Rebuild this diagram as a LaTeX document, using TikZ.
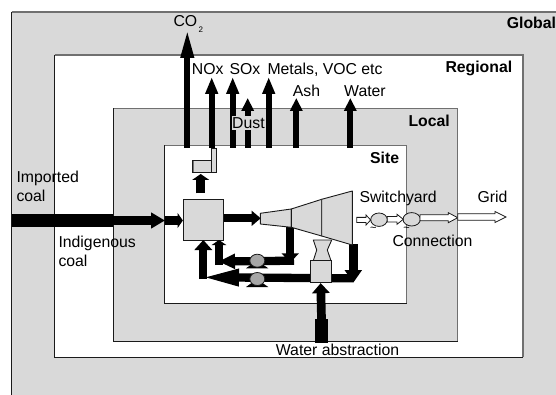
\documentclass[tikz,border=0pt]{standalone}
\usepackage{fontspec}
\setmainfont{Liberation Sans}
\usetikzlibrary{arrows.meta,shapes.geometric}
\definecolor{zone}{HTML}{D9D9D9}
\definecolor{edgedark}{HTML}{1A1A1A}
\definecolor{edgelight}{HTML}{707070}
\definecolor{pumpgray}{HTML}{A6A6A6}
\tikzset{
  flow/.style n args={3}{line width=#1pt,draw=black,-{Triangle[width=#2pt,length=#3pt]}},
  lab/.style={anchor=base west,inner sep=0pt,font=\fontsize{15.8}{18}\selectfont,text=black},
  blab/.style={lab,font=\fontsize{15.8}{18}\selectfont\bfseries},
  unit/.style={draw=edgedark,line width=0.9pt,fill=zone},
  pumpbody/.style={draw=edgedark,line width=0.8pt,fill=pumpgray},
  gen/.style={draw=edgedark,line width=0.8pt,fill=zone},
  tildelab/.style={inner sep=0pt,font=\fontsize{11}{11}\selectfont}
}
\newcommand{\zonerect}[5]{%
  \fill[#5] (#1,#2) rectangle (#3,#4);
  \draw[edgedark,line width=0.9pt] (#1,#2) -- (#1,#4) -- (#3,#4);
  \draw[edgelight,line width=1.1pt] (#1,#2) -- (#3,#2) -- (#3,#4);
}
\begin{document}
\begin{tikzpicture}[x=1pt,y=-1pt]
\useasboundingbox (0,0) rectangle (556,395);
\fill[white] (0,0) rectangle (556,395);
% zones
\fill[zone] (11.5,12) rectangle (556,395);
\draw[edgelight,line width=1.1pt] (11.5,12) -- (556,12);
\draw[edgedark,line width=0.9pt] (11.5,12) -- (11.5,395);
\zonerect{54.5}{55}{523}{357}{white}
\zonerect{113.5}{108.5}{457.5}{341}{zone}
\zonerect{164.5}{145.5}{406.5}{303}{white}

% emission anchors
\coordinate (co2a) at (187.3,148);  \coordinate (co2b) at (187.3,28);
\coordinate (noxa) at (211.7,148);  \coordinate (noxb) at (211.7,77);
\coordinate (soxa) at (232.7,148);  \coordinate (soxb) at (232.7,77);
\coordinate (dusa) at (247.7,148);  \coordinate (dusb) at (247.7,98);
\coordinate (meta) at (268.7,148);  \coordinate (metb) at (268.7,77);
\coordinate (asha) at (296.3,148);  \coordinate (ashb) at (296.3,98);
\coordinate (wata) at (350.3,148);  \coordinate (watb) at (350.3,98);
\draw[flow={6.3}{12}{30}] (co2a) -- (co2b);
\draw[flow={6}{12}{17}] (noxa) -- (noxb);
\draw[flow={6}{12}{17}] (soxa) -- (soxb);
\draw[flow={6}{12}{13}] (dusa) -- (dusb);
\draw[flow={6}{12}{17}] (meta) -- (metb);
\draw[flow={6}{12}{13}] (asha) -- (ashb);
\draw[flow={6.3}{12}{13}] (wata) -- (watb);

% coal
\node[unit,minimum width=40pt,minimum height=40.7pt,inner sep=0pt] (boiler) at (203.3,219.7) {};
\coordinate (coalA) at (11.5,220.5);
\coordinate (coalB) at (113,220.5);
\coordinate (coalC) at (165,220.5);
\draw[line width=12.4pt,draw=black] (coalA) -- (coalB);
\draw[flow={9}{15.3}{14}] (coalB) -- (coalC);
\draw[flow={8.4}{15}{5.3}] (coalC) -- (boiler.west |- coalC);

% stack
\coordinate (stackin) at (200.7,174);
\coordinate (stackout) at (200.7,193.3);
\draw[flow={8.7}{17}{6}] (stackout) -- (stackin);
\fill[zone] (192.7,160) rectangle (216,172.3);
\fill[black!55] (192.7,160) rectangle (194.3,172.3);
\fill[zone] (211.7,148.3) rectangle (216,172.3);
\draw[edgedark,line width=0.8pt] (192.7,160) -- (211.7,160) -- (211.7,148.3) -- (216,148.3) -- (216,172.3) -- (192.7,172.3) -- cycle;
\draw[edgedark,line width=0.6pt] (211.7,160) -- (211.7,172.3);

% boiler to turbine
\coordinate (hpin) at (260.7,218.3);
\draw[flow={8.3}{14.7}{9}] (boiler.east |- hpin) -- (hpin);

% return flows
\coordinate (hpout) at (290.2,226);
\coordinate (hpdrop) at (290.2,262.7);
\coordinate (upR) at (294,260.7);
\coordinate (upL) at (218.3,261.5);
\coordinate (upV) at (219,265);
\coordinate (upT) at (219,240);
\coordinate (loR) at (353,278.3);
\coordinate (loL) at (199,277.3);
\coordinate (loV) at (203.3,279);
\coordinate (loT) at (203.3,240);
\coordinate (lpout) at (353.3,244);
\coordinate (lpdrop) at (353.3,282.7);
\draw[flow={8.3}{16.7}{9.3}] (hpout) -- (hpdrop);
\draw[flow={8.3}{14.3}{16.7}] (upR) -- (upL);
\draw[flow={7.7}{14.3}{5}] (upV) -- (upT);
\draw[flow={8.3}{15}{40}] (loR) -- (loL);
\draw[flow={8}{17.3}{10}] (loV) -- (loT);
\draw[flow={8.7}{16.7}{12.7}] (lpout) -- (lpdrop);

% turbine
\draw[unit,line join=round] (260.3,213.3) -- (291.3,209) -- (291.3,227.3) -- (260.3,224) -- cycle;
\draw[unit,line join=round] (291.3,209) -- (321.7,199.3) -- (321.7,236) -- (291.3,227.3) -- cycle;
\draw[unit,line join=round] (321.7,199.3) -- (352.3,191) -- (352.3,245) -- (321.7,236) -- cycle;

% pumps
\fill[black] (246,268.3) -- (268.3,268.3) -- (262,264) -- (252,264) -- cycle;
\node[pumpbody,ellipse,minimum width=15pt,minimum height=13pt,inner sep=0pt] (pumpA) at (257.3,260.7) {};
\fill[black] (246,287) -- (268.3,287) -- (262,282.7) -- (252,282.7) -- cycle;
\node[pumpbody,ellipse,minimum width=15pt,minimum height=13pt,inner sep=0pt] (pumpB) at (257.3,279) {};

% condenser and tower
\draw[unit,line join=round] (313.3,240) -- (331.7,240) -- (327.3,250) -- (331,260.7) -- (313.3,260.7) -- (316.7,250) -- cycle;
\node[unit,minimum width=21.3pt,minimum height=22pt,inner sep=0pt] (cond) at (320.7,271.7) {};

% water abstraction
\coordinate (wabs) at (321.5,342.7);
\coordinate (wmid) at (321.5,319.3);
\draw[line width=12.3pt,draw=black] (wabs) -- (wmid);
\draw[flow={8.7}{17.3}{10}] (wmid) -- (cond.south);

% switchyard
\node[gen,ellipse,minimum width=16.6pt,minimum height=13.4pt,inner sep=0pt] (genA) at (379,219.7) {};
\node[gen,ellipse,minimum width=17.4pt,minimum height=13.4pt,inner sep=0pt] (genB) at (411.7,219.3) {};
\node[tildelab] (tildeA) at (373.3,229.5) {\string~};
\node[tildelab] (tildeB) at (406.7,229.5) {\string~};
\foreach \xa/\xb/\ya/\sh/\hx/\hh in {356.7/370.7/220/2.6/366/5,387.3/403.3/219.3/2.8/397/5,420/457.7/217.7/3/448.3/5,457.7/506/217/3.3/495/5.5}{
  \draw[draw=edgedark,fill=white,line width=0.8pt,line join=miter]
    (\xa,\ya-\sh) -- (\hx,\ya-\sh) -- (\hx,\ya-\hh) -- (\xb,\ya) -- (\hx,\ya+\hh) -- (\hx,\ya+\sh) -- (\xa,\ya+\sh) -- cycle;
}

% labels
\node[lab] (lco) at (173.3,27) {CO\raisebox{-0.7ex}{\hspace{1.5pt}\fontsize{8}{8}\selectfont 2}};
\node[lab] (lnox) at (191.7,75) {NOx};
\node[lab] (lsox) at (229.3,75) {SOx};
\node[lab] (lmet) at (267.3,75) {Metals, VOC etc};
\node[lab] (lash) at (292.7,96.7) {Ash};
\node[lab] (lwat) at (344,96.7) {Water};
\node[lab,fill=zone,inner ysep=1.5pt] (ldust) at (232,128.3) {Dust};
\node[blab] (lsite) at (370,163.3) {Site};
\node[blab] (lloc) at (408.3,127) {Local};
\node[blab] (lreg) at (445.3,72.7) {Regional};
\node[blab] (lglo) at (506.7,28.3) {Global};
\node[lab] (limp) at (16.3,182.7) {Imported};
\node[lab] (limc) at (16.3,201.7) {coal};
\node[lab] (lind) at (58.3,247.3) {Indigenous};
\node[lab] (linc) at (58.3,266.7) {coal};
\node[lab] (lsw) at (359.3,202.7) {Switchyard};
\node[lab] (lgr) at (477.3,202.7) {Grid};
\node[lab] (lcon) at (392.3,246.7) {Connection};
\node[lab] (lwa) at (275.7,355.7) {Water abstraction};
\end{tikzpicture}
\end{document}
